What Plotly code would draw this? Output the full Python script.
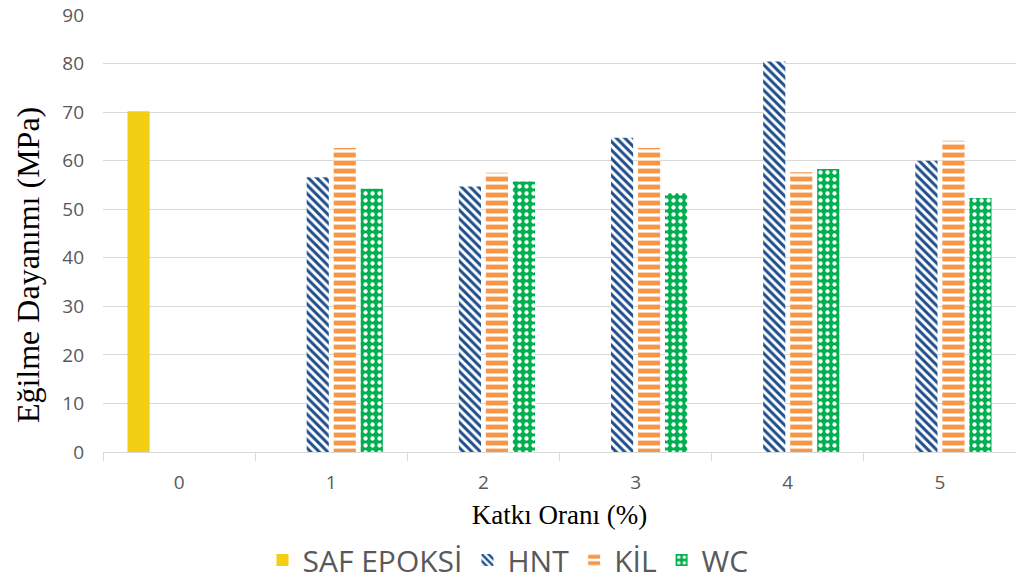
import plotly.graph_objects as go

# Flexural strength (MPa) by additive ratio (%)
categories = ["0", "1", "2", "3", "4", "5"]
ratios = ["1", "2", "3", "4", "5"]
saf_epoksi = [70.2]
hnt = [56.6, 54.7, 64.7, 80.4, 60.0]
kil = [62.6, 57.5, 62.6, 57.6, 64.1]
wc = [54.2, 55.7, 53.3, 58.3, 52.3]

series_names = ["SAF EPOKSİ", "HNT", "KİL", "WC"]

fig = go.Figure()
fig.add_trace(go.Bar(
    name=series_names[0], x=["0"], y=saf_epoksi,
    marker=dict(color="#F2CF14", line=dict(width=0)),
))
fig.add_trace(go.Bar(
    name=series_names[1], x=ratios, y=hnt,
    marker=dict(color="#FFFFFF", line=dict(width=0),
                pattern=dict(shape="\\", fgcolor="#1F4E8C", bgcolor="#FFFFFF",
                             fgopacity=1, size=6, solidity=0.5)),
))
fig.add_trace(go.Bar(
    name=series_names[2], x=ratios, y=kil,
    marker=dict(color="#FFFFFF", line=dict(width=0),
                pattern=dict(shape="-", fgcolor="#F79646", bgcolor="#FFFFFF",
                             fgopacity=1, size=8, solidity=0.6)),
))
fig.add_trace(go.Bar(
    name=series_names[3], x=ratios, y=wc,
    marker=dict(color="#00B050", line=dict(width=0),
                pattern=dict(shape=".", fgcolor="#FFFFFF", bgcolor="#00B050",
                             fgopacity=1, size=7, solidity=0.3)),
))

# Vertical axis title, placed as an annotation left of the tick labels
fig.add_annotation(
    text="Eğilme Dayanımı (MPa)", textangle=-90,
    xref="paper", yref="paper", x=-0.082, y=0.428,
    xanchor="center", yanchor="middle", showarrow=False,
    font=dict(family="Liberation Serif", size=32, color="#000000"),
)

fig.update_layout(
    width=1016, height=583,
    margin=dict(l=103, r=0, t=15, b=131, autoexpand=False),
    paper_bgcolor="white", plot_bgcolor="white",
    barmode="group", bargap=0.29, bargroupgap=0.18,
    font=dict(family="Open Sans", color="#595959"),
    xaxis=dict(
        type="category", categoryorder="array", categoryarray=categories,
        automargin=False,
        showgrid=False, showline=True, linecolor="#D9D9D9", linewidth=1,
        ticks="outside", tickson="boundaries", ticklen=8, tickcolor="#D9D9D9",
        ticklabelstandoff=13,
        tickfont=dict(size=19, color="#595959"),
        title=dict(text="Katkı Oranı (%)", standoff=11,
                   font=dict(family="Liberation Serif", size=27, color="#000000")),
    ),
    yaxis=dict(
        range=[0, 90], dtick=10, showgrid=True, gridcolor="#D9D9D9", gridwidth=1,
        automargin=False,
        zeroline=False, showline=False, ticks="", ticklabelstandoff=18,
        tickfont=dict(size=19, color="#595959"),
    ),
    legend=dict(
        orientation="h", xref="container", x=0.5, xanchor="center",
        y=-0.247, yanchor="middle",
        font=dict(size=30, color="#595959"), itemsizing="constant",
        traceorder="normal",
    ),
)

fig.write_html("out.html")
